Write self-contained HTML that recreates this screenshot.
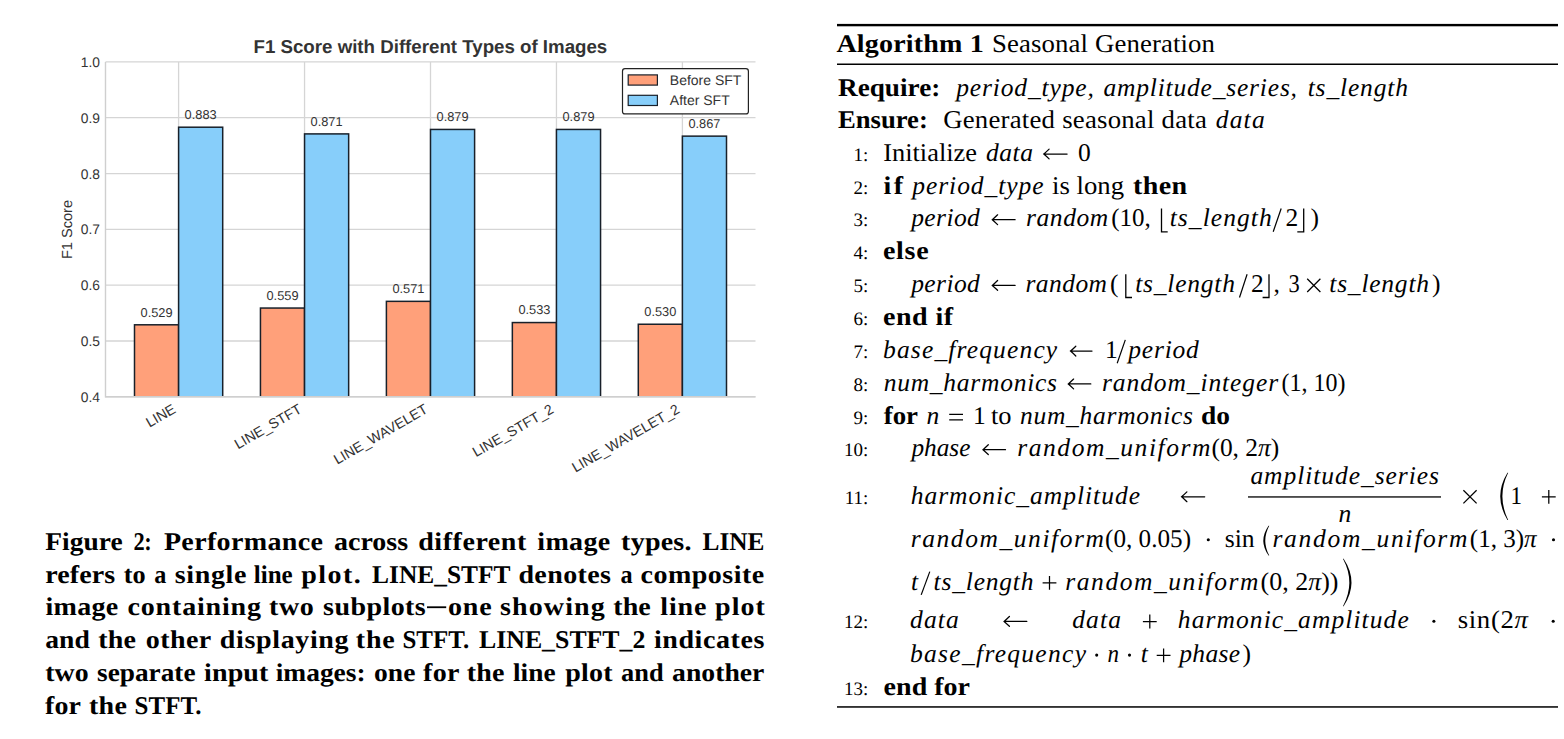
<!DOCTYPE html>
<html><head><meta charset="utf-8"><title>Figure</title>
<style>
html,body{margin:0;padding:0;background:#fff;}
body{width:1564px;height:739px;overflow:hidden;position:relative;}
svg{position:absolute;left:0;top:0;display:block;}
text{text-rendering:geometricPrecision;}
</style></head><body>
<svg width="1564" height="739" viewBox="0 0 1564 739">
<rect x="0" y="0" width="1564" height="739" fill="#fff"/>
<defs><clipPath id="axclip"><rect x="0" y="0" width="800" height="397.00"/></clipPath></defs>
<line x1="105.50" y1="396.80" x2="755.50" y2="396.80" stroke="#d5d5d5" stroke-width="1.3"/>
<line x1="105.50" y1="340.98" x2="755.50" y2="340.98" stroke="#d5d5d5" stroke-width="1.3"/>
<line x1="105.50" y1="285.17" x2="755.50" y2="285.17" stroke="#d5d5d5" stroke-width="1.3"/>
<line x1="105.50" y1="229.35" x2="755.50" y2="229.35" stroke="#d5d5d5" stroke-width="1.3"/>
<line x1="105.50" y1="173.53" x2="755.50" y2="173.53" stroke="#d5d5d5" stroke-width="1.3"/>
<line x1="105.50" y1="117.72" x2="755.50" y2="117.72" stroke="#d5d5d5" stroke-width="1.3"/>
<line x1="105.50" y1="61.90" x2="755.50" y2="61.90" stroke="#d5d5d5" stroke-width="1.3"/>
<line x1="178.60" y1="61.90" x2="178.60" y2="396.80" stroke="#d5d5d5" stroke-width="1.3"/>
<line x1="304.55" y1="61.90" x2="304.55" y2="396.80" stroke="#d5d5d5" stroke-width="1.3"/>
<line x1="430.50" y1="61.90" x2="430.50" y2="396.80" stroke="#d5d5d5" stroke-width="1.3"/>
<line x1="556.45" y1="61.90" x2="556.45" y2="396.80" stroke="#d5d5d5" stroke-width="1.3"/>
<line x1="682.40" y1="61.90" x2="682.40" y2="396.80" stroke="#d5d5d5" stroke-width="1.3"/>
<rect x="134.50" y="324.80" width="44.10" height="82.00" fill="#FFA07A" stroke="#18202a" stroke-width="1.5" clip-path="url(#axclip)"/>
<rect x="178.60" y="127.21" width="44.10" height="279.59" fill="#87CEFA" stroke="#18202a" stroke-width="1.5" clip-path="url(#axclip)"/>
<rect x="260.45" y="308.05" width="44.10" height="98.75" fill="#FFA07A" stroke="#18202a" stroke-width="1.5" clip-path="url(#axclip)"/>
<rect x="304.55" y="133.90" width="44.10" height="272.90" fill="#87CEFA" stroke="#18202a" stroke-width="1.5" clip-path="url(#axclip)"/>
<rect x="386.40" y="301.35" width="44.10" height="105.45" fill="#FFA07A" stroke="#18202a" stroke-width="1.5" clip-path="url(#axclip)"/>
<rect x="430.50" y="129.44" width="44.10" height="277.36" fill="#87CEFA" stroke="#18202a" stroke-width="1.5" clip-path="url(#axclip)"/>
<rect x="512.35" y="322.56" width="44.10" height="84.24" fill="#FFA07A" stroke="#18202a" stroke-width="1.5" clip-path="url(#axclip)"/>
<rect x="556.45" y="129.44" width="44.10" height="277.36" fill="#87CEFA" stroke="#18202a" stroke-width="1.5" clip-path="url(#axclip)"/>
<rect x="638.30" y="324.24" width="44.10" height="82.56" fill="#FFA07A" stroke="#18202a" stroke-width="1.5" clip-path="url(#axclip)"/>
<rect x="682.40" y="136.14" width="44.10" height="270.66" fill="#87CEFA" stroke="#18202a" stroke-width="1.5" clip-path="url(#axclip)"/>
<line x1="105.50" y1="61.90" x2="105.50" y2="397.40" stroke="#cfcfcf" stroke-width="1.4"/>
<line x1="105.50" y1="396.80" x2="755.50" y2="396.80" stroke="#cfcfcf" stroke-width="1.4"/>
<text x="0" y="0" style='font-family:"Liberation Sans";font-weight:400;font-style:normal;font-size:12.80px' fill="#333333" transform="translate(140.53,316.60) scale(1,1.000)">0.529</text>
<text x="0" y="0" style='font-family:"Liberation Sans";font-weight:400;font-style:normal;font-size:12.80px' fill="#333333" transform="translate(184.62,119.01) scale(1,1.000)">0.883</text>
<text x="0" y="0" style='font-family:"Liberation Sans";font-weight:400;font-style:normal;font-size:12.80px' fill="#333333" transform="translate(266.48,299.85) scale(1,1.000)">0.559</text>
<text x="0" y="0" style='font-family:"Liberation Sans";font-weight:400;font-style:normal;font-size:12.80px' fill="#333333" transform="translate(310.58,125.70) scale(1,1.000)">0.871</text>
<text x="0" y="0" style='font-family:"Liberation Sans";font-weight:400;font-style:normal;font-size:12.80px' fill="#333333" transform="translate(392.43,293.15) scale(1,1.000)">0.571</text>
<text x="0" y="0" style='font-family:"Liberation Sans";font-weight:400;font-style:normal;font-size:12.80px' fill="#333333" transform="translate(436.53,121.24) scale(1,1.000)">0.879</text>
<text x="0" y="0" style='font-family:"Liberation Sans";font-weight:400;font-style:normal;font-size:12.80px' fill="#333333" transform="translate(518.38,314.36) scale(1,1.000)">0.533</text>
<text x="0" y="0" style='font-family:"Liberation Sans";font-weight:400;font-style:normal;font-size:12.80px' fill="#333333" transform="translate(562.48,121.24) scale(1,1.000)">0.879</text>
<text x="0" y="0" style='font-family:"Liberation Sans";font-weight:400;font-style:normal;font-size:12.80px' fill="#333333" transform="translate(644.32,316.04) scale(1,1.000)">0.530</text>
<text x="0" y="0" style='font-family:"Liberation Sans";font-weight:400;font-style:normal;font-size:12.80px' fill="#333333" transform="translate(688.42,127.94) scale(1,1.000)">0.867</text>
<text x="0" y="0" style='font-family:"Liberation Sans";font-weight:700;font-style:normal;font-size:18.70px' fill="#333333" transform="translate(253.50,53.00) scale(1,1.000)">F1 Score with Different Types of Images</text>
<text x="0" y="0" style='font-family:"Liberation Sans";font-weight:400;font-style:normal;font-size:13.80px' fill="#333333" transform="translate(80.80,401.90) scale(1,1.000)">0.4</text>
<text x="0" y="0" style='font-family:"Liberation Sans";font-weight:400;font-style:normal;font-size:13.80px' fill="#333333" transform="translate(80.80,346.08) scale(1,1.000)">0.5</text>
<text x="0" y="0" style='font-family:"Liberation Sans";font-weight:400;font-style:normal;font-size:13.80px' fill="#333333" transform="translate(80.80,290.27) scale(1,1.000)">0.6</text>
<text x="0" y="0" style='font-family:"Liberation Sans";font-weight:400;font-style:normal;font-size:13.80px' fill="#333333" transform="translate(80.80,234.45) scale(1,1.000)">0.7</text>
<text x="0" y="0" style='font-family:"Liberation Sans";font-weight:400;font-style:normal;font-size:13.80px' fill="#333333" transform="translate(80.80,178.63) scale(1,1.000)">0.8</text>
<text x="0" y="0" style='font-family:"Liberation Sans";font-weight:400;font-style:normal;font-size:13.80px' fill="#333333" transform="translate(80.80,122.82) scale(1,1.000)">0.9</text>
<text x="0" y="0" style='font-family:"Liberation Sans";font-weight:400;font-style:normal;font-size:13.80px' fill="#333333" transform="translate(80.80,67.00) scale(1,1.000)">1.0</text>
<text x="0" y="0" style='font-family:"Liberation Sans";font-weight:400;font-style:normal;font-size:14.60px' fill="#333333" transform="translate(71.6,259.12) scale(1.0,1.000) rotate(-90)">F1 Score</text>
<text x="0" y="0" text-anchor="end" style='font-family:"Liberation Sans";font-weight:400;font-style:normal;font-size:14.20px' fill="#333333" transform="translate(176.80,412.00) scale(1,1.000) rotate(-30)">LINE</text>
<text x="0" y="0" text-anchor="end" style='font-family:"Liberation Sans";font-weight:400;font-style:normal;font-size:14.20px' fill="#333333" transform="translate(302.75,412.00) scale(1,1.000) rotate(-30)">LINE_STFT</text>
<text x="0" y="0" text-anchor="end" style='font-family:"Liberation Sans";font-weight:400;font-style:normal;font-size:14.20px' fill="#333333" transform="translate(428.70,412.00) scale(1,1.000) rotate(-30)">LINE_WAVELET</text>
<text x="0" y="0" text-anchor="end" style='font-family:"Liberation Sans";font-weight:400;font-style:normal;font-size:14.20px' fill="#333333" transform="translate(554.65,412.00) scale(1,1.000) rotate(-30)">LINE_STFT_2</text>
<text x="0" y="0" text-anchor="end" style='font-family:"Liberation Sans";font-weight:400;font-style:normal;font-size:14.20px' fill="#333333" transform="translate(680.60,412.00) scale(1,1.000) rotate(-30)">LINE_WAVELET_2</text>
<rect x="622.5" y="68.7" width="125.9" height="45.2" rx="2.5" ry="2.5" fill="#fff" stroke="#222" stroke-width="1.2"/>
<rect x="628.2" y="74.9" width="29.2" height="10.2" fill="#FFA07A" stroke="#18202a" stroke-width="1.2"/>
<rect x="628.2" y="95.3" width="29.2" height="10.2" fill="#87CEFA" stroke="#18202a" stroke-width="1.2"/>
<text x="0" y="0" style='font-family:"Liberation Sans";font-weight:400;font-style:normal;font-size:14.00px' fill="#333333" transform="translate(669.80,84.90) scale(1,1.000)">Before SFT</text>
<text x="0" y="0" style='font-family:"Liberation Sans";font-weight:400;font-style:normal;font-size:14.00px' fill="#333333" transform="translate(669.80,105.30) scale(1,1.000)">After SFT</text>
<rect x="427.00" y="606.34" width="19.20" height="1.8" fill="#000"/>
<rect x="837.00" y="23.9" width="721.00" height="2.4" fill="#000"/>
<rect x="837.00" y="63.5" width="721.00" height="1.5" fill="#000"/>
<rect x="837.00" y="706.2" width="721.00" height="1.5" fill="#000"/>
<path d="M1043.80 154.00 H1067.10 M1049.10 149.10 Q1045.70 152.40 1043.80 154.00 Q1045.70 155.60 1049.10 158.90" fill="none" stroke="#000" stroke-width="1.25" stroke-linecap="round"/>
<path d="M992.30 219.70 H1015.10 M997.60 214.80 Q994.20 218.10 992.30 219.70 Q994.20 221.30 997.60 224.60" fill="none" stroke="#000" stroke-width="1.25" stroke-linecap="round"/>
<path d="M1161.50 208.50 V231.80 H1167.70" fill="none" stroke="#000" stroke-width="1.3"/>
<path d="M1281.20 208.50 L1273.20 231.80" stroke="#000" stroke-width="1.2" fill="none"/>
<path d="M1303.70 208.50 V231.80 H1297.30" fill="none" stroke="#000" stroke-width="1.3"/>
<path d="M992.30 285.40 H1015.10 M997.60 280.50 Q994.20 283.80 992.30 285.40 Q994.20 287.00 997.60 290.30" fill="none" stroke="#000" stroke-width="1.25" stroke-linecap="round"/>
<path d="M1125.80 274.20 V297.50 H1132.00" fill="none" stroke="#000" stroke-width="1.3"/>
<path d="M1247.10 274.20 L1239.50 297.50" stroke="#000" stroke-width="1.2" fill="none"/>
<path d="M1269.00 274.20 V297.50 H1262.60" fill="none" stroke="#000" stroke-width="1.3"/>
<path d="M1307.20 278.80 L1320.40 292.00 M1307.20 292.00 L1320.40 278.80" stroke="#000" stroke-width="1.25" fill="none"/>
<path d="M1070.50 351.10 H1092.00 M1075.80 346.20 Q1072.40 349.50 1070.50 351.10 Q1072.40 352.70 1075.80 356.00" fill="none" stroke="#000" stroke-width="1.25" stroke-linecap="round"/>
<path d="M1125.30 339.90 L1117.20 363.20" stroke="#000" stroke-width="1.2" fill="none"/>
<path d="M1068.30 383.95 H1090.80 M1073.60 379.05 Q1070.20 382.35 1068.30 383.95 Q1070.20 385.55 1073.60 388.85" fill="none" stroke="#000" stroke-width="1.25" stroke-linecap="round"/>
<path d="M949.20 414.40 H963.00 M949.20 419.80 H963.00" stroke="#000" stroke-width="1.25" fill="none"/>
<path d="M983.00 449.65 H1005.50 M988.30 444.75 Q984.90 448.05 983.00 449.65 Q984.90 451.25 988.30 454.55" fill="none" stroke="#000" stroke-width="1.25" stroke-linecap="round"/>
<path d="M1181.60 496.80 H1204.70 M1186.90 491.90 Q1183.50 495.20 1181.60 496.80 Q1183.50 498.40 1186.90 501.70" fill="none" stroke="#000" stroke-width="1.25" stroke-linecap="round"/>
<rect x="1248.0" y="496.3" width="193.0" height="1.3" fill="#000"/>
<path d="M1463.40 490.20 L1476.60 503.40 M1463.40 503.40 L1476.60 490.20" stroke="#000" stroke-width="1.25" fill="none"/>
<path d="M1507.45 472.80 Q1493.00 496.35 1507.45 519.90 L1508.15 519.90 Q1496.60 496.35 1508.15 472.80 Z" fill="#000"/>
<path d="M1541.90 496.90 H1555.70 M1548.80 490.00 V503.80" stroke="#000" stroke-width="1.25" fill="none"/>
<circle cx="1208.30" cy="539.70" r="1.55" fill="#000"/>
<path d="M1268.55 525.80 Q1258.10 540.70 1268.55 555.60 L1269.25 555.60 Q1261.30 540.70 1269.25 525.80 Z" fill="#000"/>
<circle cx="1553.50" cy="539.70" r="1.55" fill="#000"/>
<path d="M929.80 571.60 L921.20 594.90" stroke="#000" stroke-width="1.2" fill="none"/>
<path d="M1042.60 582.90 H1056.40 M1049.50 576.00 V589.80" stroke="#000" stroke-width="1.25" fill="none"/>
<path d="M1342.95 558.80 Q1355.70 582.55 1342.95 606.30 L1343.65 606.30 Q1359.30 582.55 1343.65 558.80 Z" fill="#000"/>
<path d="M1004.10 621.40 H1026.80 M1009.40 616.50 Q1006.00 619.80 1004.10 621.40 Q1006.00 623.00 1009.40 626.30" fill="none" stroke="#000" stroke-width="1.25" stroke-linecap="round"/>
<path d="M1142.90 621.50 H1156.70 M1149.80 614.60 V628.40" stroke="#000" stroke-width="1.25" fill="none"/>
<circle cx="1433.90" cy="621.30" r="1.55" fill="#000"/>
<circle cx="1553.20" cy="621.30" r="1.55" fill="#000"/>
<circle cx="1096.70" cy="655.10" r="1.55" fill="#000"/>
<circle cx="1129.50" cy="655.10" r="1.55" fill="#000"/>
<path d="M1156.70 655.30 H1170.50 M1163.60 648.40 V662.20" stroke="#000" stroke-width="1.25" fill="none"/>
<text x="0" y="0" transform="translate(45.30,550.00) scale(1.0774,1)" style='font-family:"Liberation Serif";font-weight:700;font-style:normal;font-size:25.50px' fill="#000">Figure</text>
<text x="0" y="0" transform="translate(133.50,550.00) scale(0.8800,1)" style='font-family:"Liberation Serif";font-weight:700;font-style:normal;font-size:25.50px;letter-spacing:-0.455px' fill="#000">2:</text>
<text x="0" y="0" transform="translate(163.90,550.00) scale(1.1000,1)" style='font-family:"Liberation Serif";font-weight:700;font-style:normal;font-size:25.50px;letter-spacing:0.304px' fill="#000">Performance</text>
<text x="0" y="0" transform="translate(334.00,550.00) scale(1.0963,1)" style='font-family:"Liberation Serif";font-weight:700;font-style:normal;font-size:25.50px' fill="#000">across</text>
<text x="0" y="0" transform="translate(418.20,550.00) scale(1.1000,1)" style='font-family:"Liberation Serif";font-weight:700;font-style:normal;font-size:25.50px;letter-spacing:0.484px' fill="#000">different</text>
<text x="0" y="0" transform="translate(537.30,550.00) scale(1.1000,1)" style='font-family:"Liberation Serif";font-weight:700;font-style:normal;font-size:25.50px;letter-spacing:0.281px' fill="#000">image</text>
<text x="0" y="0" transform="translate(621.10,550.00) scale(1.1000,1)" style='font-family:"Liberation Serif";font-weight:700;font-style:normal;font-size:25.50px;letter-spacing:0.190px' fill="#000">types.</text>
<text x="0" y="0" transform="translate(702.50,550.00) scale(0.9928,1)" style='font-family:"Liberation Serif";font-weight:700;font-style:normal;font-size:25.50px' fill="#000">LINE</text>
<text x="0" y="0" transform="translate(45.30,582.72) scale(1.1000,1)" style='font-family:"Liberation Serif";font-weight:700;font-style:normal;font-size:25.50px;letter-spacing:0.077px' fill="#000">refers</text>
<text x="0" y="0" transform="translate(123.80,582.72) scale(1.0306,1)" style='font-family:"Liberation Serif";font-weight:700;font-style:normal;font-size:25.50px' fill="#000">to</text>
<text x="0" y="0" transform="translate(154.20,582.72) scale(0.9490,1)" style='font-family:"Liberation Serif";font-weight:700;font-style:normal;font-size:25.50px' fill="#000">a</text>
<text x="0" y="0" transform="translate(174.80,582.72) scale(1.1000,1)" style='font-family:"Liberation Serif";font-weight:700;font-style:normal;font-size:25.50px;letter-spacing:0.566px' fill="#000">single</text>
<text x="0" y="0" transform="translate(253.80,582.72) scale(0.9811,1)" style='font-family:"Liberation Serif";font-weight:700;font-style:normal;font-size:25.50px' fill="#000">line</text>
<text x="0" y="0" transform="translate(301.20,582.72) scale(1.1000,1)" style='font-family:"Liberation Serif";font-weight:700;font-style:normal;font-size:25.50px;letter-spacing:1.298px' fill="#000">plot.</text>
<text x="0" y="0" transform="translate(372.10,582.72) scale(0.9957,1)" style='font-family:"Liberation Serif";font-weight:700;font-style:normal;font-size:25.50px' fill="#000">LINE_STFT</text>
<text x="0" y="0" transform="translate(518.40,582.72) scale(1.1000,1)" style='font-family:"Liberation Serif";font-weight:700;font-style:normal;font-size:25.50px;letter-spacing:0.339px' fill="#000">denotes</text>
<text x="0" y="0" transform="translate(620.50,582.72) scale(0.9490,1)" style='font-family:"Liberation Serif";font-weight:700;font-style:normal;font-size:25.50px' fill="#000">a</text>
<text x="0" y="0" transform="translate(640.60,582.72) scale(1.1000,1)" style='font-family:"Liberation Serif";font-weight:700;font-style:normal;font-size:25.50px;letter-spacing:0.403px' fill="#000">composite</text>
<text x="0" y="0" transform="translate(45.40,615.44) scale(1.1000,1)" style='font-family:"Liberation Serif";font-weight:700;font-style:normal;font-size:25.50px;letter-spacing:0.281px' fill="#000">image</text>
<text x="0" y="0" transform="translate(127.50,615.44) scale(1.1000,1)" style='font-family:"Liberation Serif";font-weight:700;font-style:normal;font-size:25.50px;letter-spacing:0.735px' fill="#000">containing</text>
<text x="0" y="0" transform="translate(269.10,615.44) scale(1.1000,1)" style='font-family:"Liberation Serif";font-weight:700;font-style:normal;font-size:25.50px;letter-spacing:0.493px' fill="#000">two</text>
<text x="0" y="0" transform="translate(323.10,615.44) scale(1.1000,1)" style='font-family:"Liberation Serif";font-weight:700;font-style:normal;font-size:25.50px;letter-spacing:0.368px' fill="#000">subplots</text>
<text x="0" y="0" transform="translate(448.10,615.44) scale(1.1000,1)" style='font-family:"Liberation Serif";font-weight:700;font-style:normal;font-size:25.50px;letter-spacing:0.648px' fill="#000">one</text>
<text x="0" y="0" transform="translate(500.10,615.44) scale(1.1000,1)" style='font-family:"Liberation Serif";font-weight:700;font-style:normal;font-size:25.50px;letter-spacing:0.965px' fill="#000">showing</text>
<text x="0" y="0" transform="translate(613.30,615.44) scale(1.1000,1)" style='font-family:"Liberation Serif";font-weight:700;font-style:normal;font-size:25.50px' fill="#000">the</text>
<text x="0" y="0" transform="translate(660.30,615.44) scale(1.1000,1)" style='font-family:"Liberation Serif";font-weight:700;font-style:normal;font-size:25.50px;letter-spacing:0.753px' fill="#000">line</text>
<text x="0" y="0" transform="translate(715.00,615.44) scale(1.1000,1)" style='font-family:"Liberation Serif";font-weight:700;font-style:normal;font-size:25.50px;letter-spacing:0.955px' fill="#000">plot</text>
<text x="0" y="0" transform="translate(45.30,648.16) scale(1.0827,1)" style='font-family:"Liberation Serif";font-weight:700;font-style:normal;font-size:25.50px' fill="#000">and</text>
<text x="0" y="0" transform="translate(98.30,648.16) scale(1.1000,1)" style='font-family:"Liberation Serif";font-weight:700;font-style:normal;font-size:25.50px;letter-spacing:0.136px' fill="#000">the</text>
<text x="0" y="0" transform="translate(145.70,648.16) scale(1.1000,1)" style='font-family:"Liberation Serif";font-weight:700;font-style:normal;font-size:25.50px;letter-spacing:0.397px' fill="#000">other</text>
<text x="0" y="0" transform="translate(219.80,648.16) scale(1.1000,1)" style='font-family:"Liberation Serif";font-weight:700;font-style:normal;font-size:25.50px;letter-spacing:0.571px' fill="#000">displaying</text>
<text x="0" y="0" transform="translate(355.80,648.16) scale(1.1000,1)" style='font-family:"Liberation Serif";font-weight:700;font-style:normal;font-size:25.50px;letter-spacing:0.682px' fill="#000">the</text>
<text x="0" y="0" transform="translate(402.40,648.16) scale(0.9788,1)" style='font-family:"Liberation Serif";font-weight:700;font-style:normal;font-size:25.50px' fill="#000">STFT.</text>
<text x="0" y="0" transform="translate(479.00,648.16) scale(1.0122,1)" style='font-family:"Liberation Serif";font-weight:700;font-style:normal;font-size:25.50px' fill="#000">LINE_STFT_2</text>
<text x="0" y="0" transform="translate(653.90,648.16) scale(1.1000,1)" style='font-family:"Liberation Serif";font-weight:700;font-style:normal;font-size:25.50px;letter-spacing:0.513px' fill="#000">indicates</text>
<text x="0" y="0" transform="translate(45.30,680.88) scale(1.0921,1)" style='font-family:"Liberation Serif";font-weight:700;font-style:normal;font-size:25.50px' fill="#000">two</text>
<text x="0" y="0" transform="translate(97.10,680.88) scale(1.0690,1)" style='font-family:"Liberation Serif";font-weight:700;font-style:normal;font-size:25.50px' fill="#000">separate</text>
<text x="0" y="0" transform="translate(204.00,680.88) scale(1.1000,1)" style='font-family:"Liberation Serif";font-weight:700;font-style:normal;font-size:25.50px;letter-spacing:0.111px' fill="#000">input</text>
<text x="0" y="0" transform="translate(275.70,680.88) scale(1.0760,1)" style='font-family:"Liberation Serif";font-weight:700;font-style:normal;font-size:25.50px' fill="#000">images:</text>
<text x="0" y="0" transform="translate(374.10,680.88) scale(1.0797,1)" style='font-family:"Liberation Serif";font-weight:700;font-style:normal;font-size:25.50px' fill="#000">one</text>
<text x="0" y="0" transform="translate(423.10,680.88) scale(1.1000,1)" style='font-family:"Liberation Serif";font-weight:700;font-style:normal;font-size:25.50px;letter-spacing:0.270px' fill="#000">for</text>
<text x="0" y="0" transform="translate(466.80,680.88) scale(1.1000,1)" style='font-family:"Liberation Serif";font-weight:700;font-style:normal;font-size:25.50px;letter-spacing:0.136px' fill="#000">the</text>
<text x="0" y="0" transform="translate(513.00,680.88) scale(1.0719,1)" style='font-family:"Liberation Serif";font-weight:700;font-style:normal;font-size:25.50px' fill="#000">line</text>
<text x="0" y="0" transform="translate(565.20,680.88) scale(1.1000,1)" style='font-family:"Liberation Serif";font-weight:700;font-style:normal;font-size:25.50px;letter-spacing:0.197px' fill="#000">plot</text>
<text x="0" y="0" transform="translate(621.10,680.88) scale(1.0341,1)" style='font-family:"Liberation Serif";font-weight:700;font-style:normal;font-size:25.50px' fill="#000">and</text>
<text x="0" y="0" transform="translate(672.10,680.88) scale(1.0859,1)" style='font-family:"Liberation Serif";font-weight:700;font-style:normal;font-size:25.50px' fill="#000">another</text>
<text x="0" y="0" transform="translate(45.10,713.60) scale(1.0968,1)" style='font-family:"Liberation Serif";font-weight:700;font-style:normal;font-size:25.50px' fill="#000">for</text>
<text x="0" y="0" transform="translate(88.90,713.60) scale(1.1000,1)" style='font-family:"Liberation Serif";font-weight:700;font-style:normal;font-size:25.50px;letter-spacing:0.318px' fill="#000">the</text>
<text x="0" y="0" transform="translate(134.60,713.60) scale(0.9788,1)" style='font-family:"Liberation Serif";font-weight:700;font-style:normal;font-size:25.50px' fill="#000">STFT.</text>
<text x="0" y="0" transform="translate(836.40,51.70) scale(1.1000,1)" style='font-family:"Liberation Serif";font-weight:700;font-style:normal;font-size:25.50px;letter-spacing:0.155px' fill="#000">Algorithm 1</text>
<text x="0" y="0" transform="translate(992.00,51.70) scale(1.0500,1)" style='font-family:"Liberation Serif";font-weight:400;font-style:normal;font-size:25.50px;letter-spacing:0.116px' fill="#000">Seasonal Generation</text>
<text x="0" y="0" transform="translate(838.00,95.70) scale(1.0673,1)" style='font-family:"Liberation Serif";font-weight:700;font-style:normal;font-size:25.50px' fill="#000">Require:</text>
<text x="956.20" y="95.70" style='font-family:"Liberation Serif";font-weight:400;font-style:italic;font-size:25.50px;letter-spacing:0.859px' fill="#000">period_type,</text>
<text x="1103.40" y="95.70" style='font-family:"Liberation Serif";font-weight:400;font-style:italic;font-size:25.50px;letter-spacing:0.812px' fill="#000">amplitude_series,</text>
<text x="1307.70" y="95.70" style='font-family:"Liberation Serif";font-weight:400;font-style:italic;font-size:25.50px;letter-spacing:0.850px' fill="#000">ts_length</text>
<text x="0" y="0" transform="translate(838.00,127.50) scale(1.0448,1)" style='font-family:"Liberation Serif";font-weight:700;font-style:normal;font-size:25.50px' fill="#000">Ensure:</text>
<text x="0" y="0" transform="translate(943.20,127.50) scale(1.0500,1)" style='font-family:"Liberation Serif";font-weight:400;font-style:normal;font-size:25.50px;letter-spacing:0.214px' fill="#000">Generated seasonal data</text>
<text x="1215.70" y="127.50" style='font-family:"Liberation Serif";font-weight:400;font-style:italic;font-size:25.50px;letter-spacing:1.217px' fill="#000">data</text>
<text x="853.40" y="160.70" style='font-family:"Liberation Serif";font-weight:400;font-style:normal;font-size:19.00px' fill="#000">1:</text>
<text x="0" y="0" transform="translate(883.20,160.70) scale(1.0353,1)" style='font-family:"Liberation Serif";font-weight:400;font-style:normal;font-size:25.50px' fill="#000">Initialize</text>
<text x="986.00" y="160.70" style='font-family:"Liberation Serif";font-weight:400;font-style:italic;font-size:25.50px;letter-spacing:0.550px' fill="#000">data</text>
<text x="1078.00" y="160.70" style='font-family:"Liberation Serif";font-weight:400;font-style:normal;font-size:25.50px' fill="#000">0</text>
<text x="853.40" y="193.55" style='font-family:"Liberation Serif";font-weight:400;font-style:normal;font-size:19.00px' fill="#000">2:</text>
<text x="0" y="0" transform="translate(883.50,193.55) scale(1.1000,1)" style='font-family:"Liberation Serif";font-weight:700;font-style:normal;font-size:25.50px;letter-spacing:2.150px' fill="#000">if</text>
<text x="912.30" y="193.55" style='font-family:"Liberation Serif";font-weight:400;font-style:italic;font-size:25.50px;letter-spacing:0.940px' fill="#000">period_type</text>
<text x="0" y="0" transform="translate(1052.00,193.55) scale(1.0480,1)" style='font-family:"Liberation Serif";font-weight:400;font-style:normal;font-size:25.50px' fill="#000">is long</text>
<text x="0" y="0" transform="translate(1133.00,193.55) scale(1.1000,1)" style='font-family:"Liberation Serif";font-weight:700;font-style:normal;font-size:25.50px;letter-spacing:0.314px' fill="#000">then</text>
<text x="853.40" y="226.40" style='font-family:"Liberation Serif";font-weight:400;font-style:normal;font-size:19.00px' fill="#000">3:</text>
<text x="911.20" y="226.40" style='font-family:"Liberation Serif";font-weight:400;font-style:italic;font-size:25.50px;letter-spacing:0.420px' fill="#000">period</text>
<text x="1026.00" y="226.40" style='font-family:"Liberation Serif";font-weight:400;font-style:italic;font-size:25.50px;letter-spacing:0.570px' fill="#000">random</text>
<text x="0" y="0" transform="translate(1111.20,226.40) scale(0.9814,1)" style='font-family:"Liberation Serif";font-weight:400;font-style:normal;font-size:25.50px' fill="#000">(10,</text>
<text x="1169.70" y="226.40" style='font-family:"Liberation Serif";font-weight:400;font-style:italic;font-size:25.50px;letter-spacing:1.062px' fill="#000">ts_length</text>
<text x="1285.60" y="226.40" style='font-family:"Liberation Serif";font-weight:400;font-style:normal;font-size:25.50px' fill="#000">2</text>
<text x="1310.40" y="226.40" style='font-family:"Liberation Serif";font-weight:400;font-style:normal;font-size:25.50px' fill="#000">)</text>
<text x="853.40" y="259.25" style='font-family:"Liberation Serif";font-weight:400;font-style:normal;font-size:19.00px' fill="#000">4:</text>
<text x="0" y="0" transform="translate(883.00,259.25) scale(1.1000,1)" style='font-family:"Liberation Serif";font-weight:700;font-style:normal;font-size:25.50px;letter-spacing:0.602px' fill="#000">else</text>
<text x="853.40" y="292.10" style='font-family:"Liberation Serif";font-weight:400;font-style:normal;font-size:19.00px' fill="#000">5:</text>
<text x="911.20" y="292.10" style='font-family:"Liberation Serif";font-weight:400;font-style:italic;font-size:25.50px;letter-spacing:0.420px' fill="#000">period</text>
<text x="1025.50" y="292.10" style='font-family:"Liberation Serif";font-weight:400;font-style:italic;font-size:25.50px;letter-spacing:0.430px' fill="#000">random</text>
<text x="1110.00" y="292.10" style='font-family:"Liberation Serif";font-weight:400;font-style:normal;font-size:25.50px' fill="#000">(</text>
<text x="1135.20" y="292.10" style='font-family:"Liberation Serif";font-weight:400;font-style:italic;font-size:25.50px;letter-spacing:0.787px' fill="#000">ts_length</text>
<text x="1251.10" y="292.10" style='font-family:"Liberation Serif";font-weight:400;font-style:normal;font-size:25.50px' fill="#000">2</text>
<text x="1273.60" y="292.10" style='font-family:"Liberation Serif";font-weight:400;font-style:normal;font-size:25.50px' fill="#000">,</text>
<text x="0" y="0" transform="translate(1288.50,292.10) scale(0.8800,1)" style='font-family:"Liberation Serif";font-weight:400;font-style:normal;font-size:25.50px' fill="#000">3</text>
<text x="1329.30" y="292.10" style='font-family:"Liberation Serif";font-weight:400;font-style:italic;font-size:25.50px;letter-spacing:0.775px' fill="#000">ts_length</text>
<text x="1432.00" y="292.10" style='font-family:"Liberation Serif";font-weight:400;font-style:normal;font-size:25.50px' fill="#000">)</text>
<text x="853.40" y="324.95" style='font-family:"Liberation Serif";font-weight:400;font-style:normal;font-size:19.00px' fill="#000">6:</text>
<text x="0" y="0" transform="translate(883.00,324.95) scale(1.1000,1)" style='font-family:"Liberation Serif";font-weight:700;font-style:normal;font-size:25.50px;letter-spacing:0.420px' fill="#000">end if</text>
<text x="853.40" y="357.80" style='font-family:"Liberation Serif";font-weight:400;font-style:normal;font-size:19.00px' fill="#000">7:</text>
<text x="883.00" y="357.80" style='font-family:"Liberation Serif";font-weight:400;font-style:italic;font-size:25.50px;letter-spacing:1.162px' fill="#000">base_frequency</text>
<text x="1105.00" y="357.80" style='font-family:"Liberation Serif";font-weight:400;font-style:normal;font-size:25.50px' fill="#000">1</text>
<text x="1128.30" y="357.80" style='font-family:"Liberation Serif";font-weight:400;font-style:italic;font-size:25.50px;letter-spacing:0.800px' fill="#000">period</text>
<text x="853.40" y="390.65" style='font-family:"Liberation Serif";font-weight:400;font-style:normal;font-size:19.00px' fill="#000">8:</text>
<text x="883.70" y="390.65" style='font-family:"Liberation Serif";font-weight:400;font-style:italic;font-size:25.50px;letter-spacing:0.746px' fill="#000">num_harmonics</text>
<text x="1102.00" y="390.65" style='font-family:"Liberation Serif";font-weight:400;font-style:italic;font-size:25.50px;letter-spacing:0.908px' fill="#000">random_integer</text>
<text x="0" y="0" transform="translate(1281.60,390.65) scale(0.9397,1)" style='font-family:"Liberation Serif";font-weight:400;font-style:normal;font-size:25.50px' fill="#000">(1, 10)</text>
<text x="853.40" y="423.50" style='font-family:"Liberation Serif";font-weight:400;font-style:normal;font-size:19.00px' fill="#000">9:</text>
<text x="0" y="0" transform="translate(883.70,423.50) scale(1.0538,1)" style='font-family:"Liberation Serif";font-weight:700;font-style:normal;font-size:25.50px' fill="#000">for</text>
<text x="926.40" y="423.50" style='font-family:"Liberation Serif";font-weight:400;font-style:italic;font-size:25.50px' fill="#000">n</text>
<text x="973.00" y="423.50" style='font-family:"Liberation Serif";font-weight:400;font-style:normal;font-size:25.50px' fill="#000">1</text>
<text x="0" y="0" transform="translate(991.00,423.50) scale(1.0378,1)" style='font-family:"Liberation Serif";font-weight:400;font-style:normal;font-size:25.50px' fill="#000">to</text>
<text x="1020.00" y="423.50" style='font-family:"Liberation Serif";font-weight:400;font-style:italic;font-size:25.50px;letter-spacing:0.721px' fill="#000">num_harmonics</text>
<text x="0" y="0" transform="translate(1201.00,423.50) scale(1.0761,1)" style='font-family:"Liberation Serif";font-weight:700;font-style:normal;font-size:25.50px' fill="#000">do</text>
<text x="843.90" y="456.35" style='font-family:"Liberation Serif";font-weight:400;font-style:normal;font-size:19.00px' fill="#000">10:</text>
<text x="0" y="0" transform="translate(911.49,456.35) scale(0.9902,1)" style='font-family:"Liberation Serif";font-weight:400;font-style:italic;font-size:25.50px' fill="#000">phase</text>
<text x="1017.20" y="456.35" style='font-family:"Liberation Serif";font-weight:400;font-style:italic;font-size:25.50px;letter-spacing:1.573px' fill="#000">random_uniform</text>
<text x="0" y="0" transform="translate(1211.40,456.35) scale(0.9985,1)" style='font-family:"Liberation Serif";font-weight:400;font-style:normal;font-size:25.50px' fill="#000">(0, 2<tspan style="font-style:italic">π</tspan>)</text>
<text x="844.65" y="503.50" style='font-family:"Liberation Serif";font-weight:400;font-style:normal;font-size:19.00px' fill="#000">11:</text>
<text x="910.70" y="503.50" style='font-family:"Liberation Serif";font-weight:400;font-style:italic;font-size:25.50px;letter-spacing:0.988px' fill="#000">harmonic_amplitude</text>
<text x="1250.40" y="484.40" style='font-family:"Liberation Serif";font-weight:400;font-style:italic;font-size:25.50px;letter-spacing:0.957px' fill="#000">amplitude_series</text>
<text x="1338.50" y="521.60" style='font-family:"Liberation Serif";font-weight:400;font-style:italic;font-size:25.50px' fill="#000">n</text>
<text x="0" y="0" transform="translate(1510.50,503.50) scale(0.9020,1)" style='font-family:"Liberation Serif";font-weight:400;font-style:normal;font-size:25.50px' fill="#000">1</text>
<text x="910.70" y="546.50" style='font-family:"Liberation Serif";font-weight:400;font-style:italic;font-size:25.50px;letter-spacing:1.573px' fill="#000">random_uniform</text>
<text x="0" y="0" transform="translate(1105.00,546.50) scale(0.9874,1)" style='font-family:"Liberation Serif";font-weight:400;font-style:normal;font-size:25.50px' fill="#000">(0, 0.05)</text>
<text x="0" y="0" transform="translate(1224.70,546.50) scale(1.0050,1)" style='font-family:"Liberation Serif";font-weight:400;font-style:normal;font-size:25.50px' fill="#000">sin</text>
<text x="1272.50" y="546.50" style='font-family:"Liberation Serif";font-weight:400;font-style:italic;font-size:25.50px;letter-spacing:1.696px' fill="#000">random_uniform</text>
<text x="0" y="0" transform="translate(1469.80,546.50) scale(0.9824,1)" style='font-family:"Liberation Serif";font-weight:400;font-style:normal;font-size:25.50px' fill="#000">(1, 3)<tspan style="font-style:italic">π</tspan></text>
<text x="910.90" y="589.50" style='font-family:"Liberation Serif";font-weight:400;font-style:italic;font-size:25.50px' fill="#000">t</text>
<text x="933.60" y="589.50" style='font-family:"Liberation Serif";font-weight:400;font-style:italic;font-size:25.50px;letter-spacing:0.800px' fill="#000">ts_length</text>
<text x="1065.30" y="589.50" style='font-family:"Liberation Serif";font-weight:400;font-style:italic;font-size:25.50px;letter-spacing:1.558px' fill="#000">random_uniform</text>
<text x="0" y="0" transform="translate(1260.50,589.50) scale(1.0196,1)" style='font-family:"Liberation Serif";font-weight:400;font-style:normal;font-size:25.50px' fill="#000">(0, 2<tspan style="font-style:italic">π</tspan>))</text>
<text x="843.90" y="628.10" style='font-family:"Liberation Serif";font-weight:400;font-style:normal;font-size:19.00px' fill="#000">12:</text>
<text x="910.00" y="628.10" style='font-family:"Liberation Serif";font-weight:400;font-style:italic;font-size:25.50px;letter-spacing:1.150px' fill="#000">data</text>
<text x="1072.20" y="628.10" style='font-family:"Liberation Serif";font-weight:400;font-style:italic;font-size:25.50px;letter-spacing:1.150px' fill="#000">data</text>
<text x="1177.80" y="628.10" style='font-family:"Liberation Serif";font-weight:400;font-style:italic;font-size:25.50px;letter-spacing:1.088px' fill="#000">harmonic_amplitude</text>
<text x="0" y="0" transform="translate(1457.70,628.10) scale(1.0500,1)" style='font-family:"Liberation Serif";font-weight:400;font-style:normal;font-size:25.50px;letter-spacing:0.620px' fill="#000">sin(2<tspan style="font-style:italic">π</tspan></text>
<text x="910.00" y="661.90" style='font-family:"Liberation Serif";font-weight:400;font-style:italic;font-size:25.50px;letter-spacing:1.300px' fill="#000">base_frequency</text>
<text x="0" y="0" transform="translate(1107.50,661.90) scale(0.9020,1)" style='font-family:"Liberation Serif";font-weight:400;font-style:italic;font-size:25.50px' fill="#000">n</text>
<text x="1140.70" y="661.90" style='font-family:"Liberation Serif";font-weight:400;font-style:italic;font-size:25.50px' fill="#000">t</text>
<text x="1179.30" y="661.90" style='font-family:"Liberation Serif";font-weight:400;font-style:italic;font-size:25.50px;letter-spacing:0.300px' fill="#000">phase</text>
<text x="1242.50" y="661.90" style='font-family:"Liberation Serif";font-weight:400;font-style:normal;font-size:25.50px' fill="#000">)</text>
<text x="843.90" y="694.60" style='font-family:"Liberation Serif";font-weight:400;font-style:normal;font-size:19.00px' fill="#000">13:</text>
<text x="0" y="0" transform="translate(883.60,694.60) scale(1.0992,1)" style='font-family:"Liberation Serif";font-weight:700;font-style:normal;font-size:25.50px' fill="#000">end for</text>
</svg>
</body></html>
